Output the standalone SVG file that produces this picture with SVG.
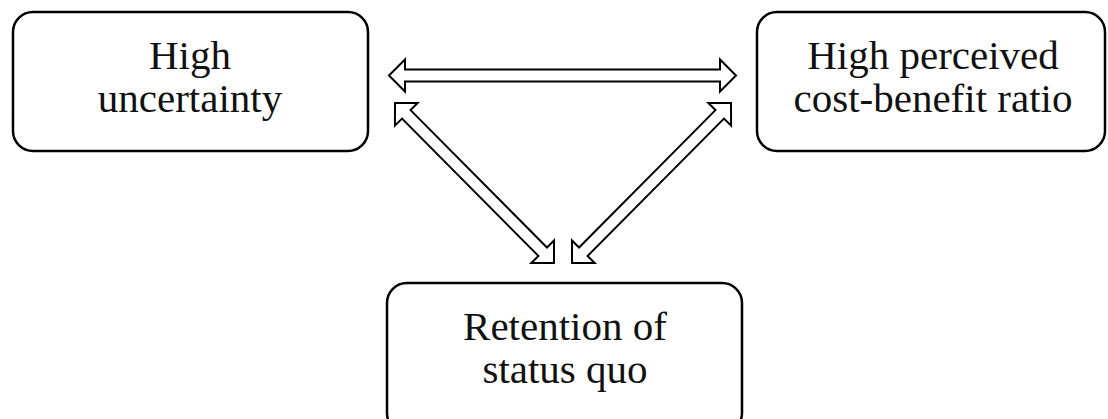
<svg xmlns="http://www.w3.org/2000/svg" width="1108" height="419" viewBox="0 0 1108 419">
<style>
.box{fill:#fff;stroke:#000;stroke-width:2.5}
.lbl{font-family:"Liberation Serif","Times New Roman",serif;font-size:41px;fill:#111;text-anchor:middle}
.arr{fill:#fff;stroke:#000;stroke-width:2;stroke-linejoin:miter}
</style>
<rect width="1108" height="419" fill="#fff"/>
<g id="connectors">
<polygon class="arr" points="389,75.5 405,59.5 405,69.5 720,69.5 720,59.5 736,75.5 720,91.5 720,81.5 405,81.5 405,91.5"/>
<g transform="translate(395,103) rotate(45.2)">
<polygon class="arr" points="0,0 16,-16 16,-6 209.6,-6 209.6,-16 225.6,0 209.6,16 209.6,6 16,6 16,16"/>
</g>
<g transform="translate(731,103) rotate(134.8)">
<polygon class="arr" points="0,0 16,-16 16,-6 209.6,-6 209.6,-16 225.6,0 209.6,16 209.6,6 16,6 16,16"/>
</g>
</g>
<g id="node-uncertainty">
<rect class="box" x="13" y="12" width="355" height="139" rx="20"/>
<text class="lbl" x="190" y="69">High</text>
<text class="lbl" x="190" y="112">uncertainty</text>
</g>
<g id="node-costbenefit">
<rect class="box" x="757" y="12" width="348" height="139" rx="20"/>
<text class="lbl" x="933" y="69">High perceived</text>
<text class="lbl" x="933" y="112">cost-benefit ratio</text>
</g>
<g id="node-statusquo">
<rect class="box" x="387" y="283" width="355" height="150" rx="20"/>
<text class="lbl" x="565" y="340">Retention of</text>
<text class="lbl" x="565" y="383">status quo</text>
</g>
</svg>
